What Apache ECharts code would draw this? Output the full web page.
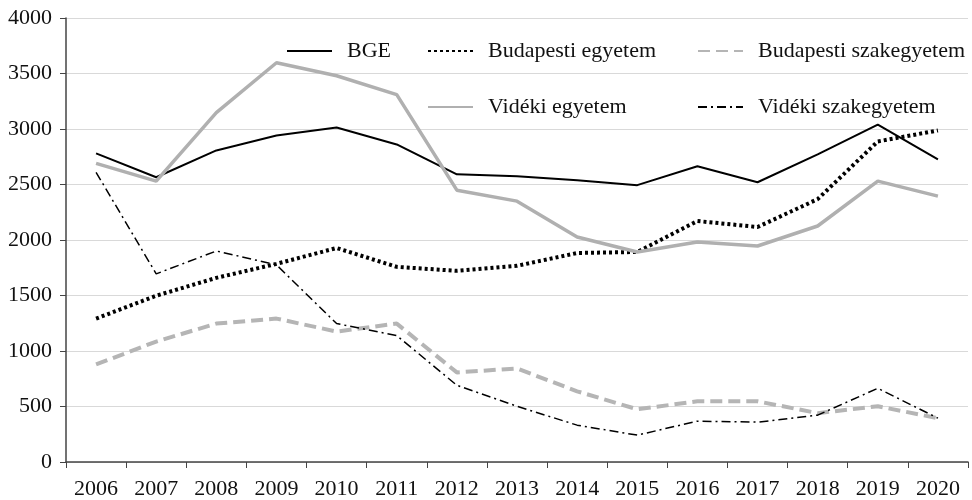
<!DOCTYPE html>
<html>
<head>
<meta charset="utf-8">
<script src="https://cdn.jsdelivr.net/npm/echarts@6/dist/echarts.min.js"></script>
<style>
  html, body { margin: 0; padding: 0; background: #fff; }
  #chart { width: 972px; height: 500px; }
</style>
</head>
<body>
<div id="chart"></div>
<script>
var years = ['2006', '2007', '2008', '2009', '2010', '2011', '2012', '2013', '2014', '2015', '2016', '2017', '2018', '2019', '2020'];
var bge = [2780, 2565, 2807, 2942, 3013, 2861, 2592, 2574, 2538, 2494, 2664, 2520, 2771, 3040, 2727];
var budapestiEgyetem = [1292, 1498, 1659, 1785, 1928, 1758, 1722, 1767, 1883, 1892, 2171, 2117, 2368, 2888, 2987];
var budapestiSzak = [879, 1085, 1247, 1292, 1175, 1247, 807, 843, 637, 475, 547, 547, 440, 502, 395];
var videkiEgyetem = [2690, 2530, 3148, 3597, 3480, 3310, 2449, 2350, 2027, 1892, 1982, 1946, 2126, 2530, 2395];
var videkiSzak = [2610, 1695, 1901, 1776, 1247, 1139, 691, 502, 332, 242, 368, 359, 422, 664, 395];

var font = 'Liberation Serif';
var myChart = echarts.init(document.getElementById('chart'));

function leg(name, left, top) {
    return {
        data: [name], left: left, top: top,
        itemWidth: 45, itemHeight: 14, itemGap: 0,
        itemStyle: { opacity: 0 },
        textStyle: { fontFamily: font, fontSize: 22, color: '#111', padding: [0, 0, 0, 10] }
    };
}

option = {
    animation: false,
    grid: { left: 66, right: 4, top: 18, bottom: 36 },
    legend: [
        leg('BGE', 281, 35),
        leg('Budapesti egyetem', 422, 35),
        leg('Budapesti szakegyetem', 692, 35),
        leg('Vidéki egyetem', 422, 91),
        leg('Vidéki szakegyetem', 692, 91)
    ],
    xAxis: {
        type: 'category',
        data: years,
        boundaryGap: true,
        axisLine: { lineStyle: { color: '#444', width: 1.5 } },
        axisTick: { show: true, length: 6, lineStyle: { color: '#444' } },
        axisLabel: { fontFamily: font, fontSize: 22, color: '#111', margin: 16 }
    },
    yAxis: {
        type: 'value',
        min: 0, max: 4000, interval: 500,
        axisLine: { show: true, lineStyle: { color: '#444', width: 1.5 } },
        axisTick: { show: true, length: 6, lineStyle: { color: '#444' } },
        axisLabel: { fontFamily: font, fontSize: 22, color: '#111', margin: 14, formatter: function (v) { return String(v); } },
        splitLine: { lineStyle: { color: '#d9d9d9', width: 1 } }
    },
    series: [
        {
            name: 'BGE', type: 'line', data: bge, symbol: 'none',
            lineStyle: { color: '#000', width: 2 }, itemStyle: { color: '#000' }
        },
        {
            name: 'Budapesti egyetem', type: 'line', data: budapestiEgyetem, symbol: 'none',
            lineStyle: { color: '#000', width: 4, type: [3, 3], cap: 'butt' }, itemStyle: { color: '#000' }
        },
        {
            name: 'Budapesti szakegyetem', type: 'line', data: budapestiSzak, symbol: 'none',
            lineStyle: { color: '#b5b5b5', width: 4, type: [12, 6], cap: 'butt' }, itemStyle: { color: '#b5b5b5' }
        },
        {
            name: 'Vidéki egyetem', type: 'line', data: videkiEgyetem, symbol: 'none',
            lineStyle: { color: '#b0b0b0', width: 3.5 }, itemStyle: { color: '#b0b0b0' }
        },
        {
            name: 'Vidéki szakegyetem', type: 'line', data: videkiSzak, symbol: 'none',
            lineStyle: { color: '#000', width: 1.5, type: [9, 4, 2, 4] }, itemStyle: { color: '#000' }
        }
    ]
};
myChart.setOption(option);
</script>
</body>
</html>
